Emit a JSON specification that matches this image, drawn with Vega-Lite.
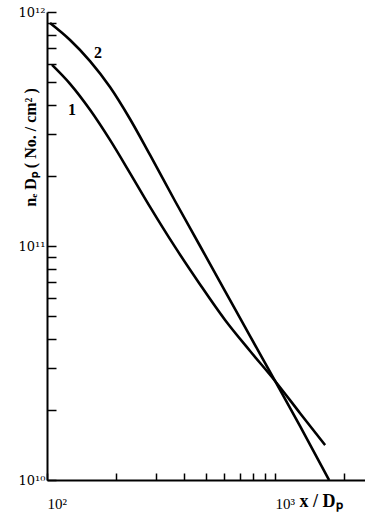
{
  "$schema": "https://vega.github.io/schema/vega-lite/v6.json",
  "width": 318,
  "height": 468,
  "autosize": {"type": "none"},
  "padding": {"left": 47, "top": 12, "right": 0, "bottom": 35},
  "background": "white",
  "config": {"view": {"stroke": null}, "font": "Liberation Serif"},
  "datasets": {
    "curves": [
      {"curve": "2", "x": 103.1, "y": 8.97e11},
      {"curve": "2", "x": 126.2, "y": 7.59e11},
      {"curve": "2", "x": 154.4, "y": 6.17e11},
      {"curve": "2", "x": 188.9, "y": 4.78e11},
      {"curve": "2", "x": 231.2, "y": 3.49e11},
      {"curve": "2", "x": 283.0, "y": 2.45e11},
      {"curve": "2", "x": 364.2, "y": 1.557e11},
      {"curve": "2", "x": 469.0, "y": 1.0e11},
      {"curve": "2", "x": 603.6, "y": 6.42e10},
      {"curve": "2", "x": 777.0, "y": 4.12e10},
      {"curve": "2", "x": 1000, "y": 2.65e10},
      {"curve": "2", "x": 1287.4, "y": 1.70e10},
      {"curve": "2", "x": 1725, "y": 1.0e10},
      {"curve": "1", "x": 105.2, "y": 5.94e11},
      {"curve": "1", "x": 126.2, "y": 4.93e11},
      {"curve": "1", "x": 154.4, "y": 3.82e11},
      {"curve": "1", "x": 188.9, "y": 2.84e11},
      {"curve": "1", "x": 231.2, "y": 2.05e11},
      {"curve": "1", "x": 283.0, "y": 1.47e11},
      {"curve": "1", "x": 364.2, "y": 9.91e10},
      {"curve": "1", "x": 469.0, "y": 6.85e10},
      {"curve": "1", "x": 603.6, "y": 4.83e10},
      {"curve": "1", "x": 777.0, "y": 3.56e10},
      {"curve": "1", "x": 1000, "y": 2.65e10},
      {"curve": "1", "x": 1287.4, "y": 1.93e10},
      {"curve": "1", "x": 1657, "y": 1.41e10}
    ],
    "labels": [
      {"label": "1", "x": 128.7, "y": 3.81e11},
      {"label": "2", "x": 167.4, "y": 6.68e11}
    ]
  },
  "layer": [
    {
      "data": {"name": "curves"},
      "mark": {"type": "line", "color": "black", "strokeWidth": 2.6, "clip": true, "interpolate": "monotone"},
      "encoding": {
        "x": {
          "field": "x",
          "type": "quantitative",
          "scale": {"type": "log", "domain": [100, 2480], "nice": false},
          "axis": {
            "values": [100, 200, 300, 400, 500, 600, 700, 800, 900, 1000, 2000],
            "labelExpr": "datum.value == 100 ? '10²' : datum.value == 1000 ? '10³' : ''",
            "labelOverlap": false,
            "labelFlush": false,
            "labelAlign": "left",
            "labelDx": 1,
            "labelFont": "Liberation Serif",
            "labelFontSize": 15,
            "labelColor": "black",
            "labelPadding": 23,
            "tickSize": -7,
            "tickColor": "black",
            "tickWidth": 1.5,
            "domainColor": "black",
            "domainWidth": 2,
            "grid": false,
            "title": "x / Dₚ",
            "titleFont": "Liberation Serif",
            "titleFontSize": 18,
            "titleFontWeight": "bold",
            "titleColor": "black",
            "titleAlign": "left",
            "titleAnchor": "start",
            "titleBaseline": "middle",
            "titleX": 252,
            "titleY": 21
          }
        },
        "y": {
          "field": "y",
          "type": "quantitative",
          "scale": {"type": "log", "domain": [1e10, 1e12], "nice": false},
          "axis": {
            "values": [1e10, 2e10, 3e10, 4e10, 5e10, 6e10, 7e10, 8e10, 9e10, 1e11, 2e11, 3e11, 4e11, 5e11, 6e11, 7e11, 8e11, 9e11, 1e12],
            "labelExpr": "datum.value == 1e10 ? '10¹⁰' : datum.value == 1e11 ? '10¹¹' : datum.value == 1e12 ? '10¹²' : ''",
            "labelOverlap": false,
            "labelFlush": false,
            "labelFont": "DejaVu Serif",
            "labelFontSize": 13,
            "labelColor": "black",
            "labelPadding": 11,
            "tickSize": -9,
            "tickColor": "black",
            "tickWidth": 1.5,
            "domainColor": "black",
            "domainWidth": 2,
            "grid": false,
            "title": "nₑ Dₚ ( No. / cm² )",
            "titleFont": "Liberation Serif",
            "titleFontSize": 16,
            "titleFontWeight": "bold",
            "titleColor": "black",
            "titleAngle": -90,
            "titleAlign": "center",
            "titleBaseline": "middle",
            "titleX": -17,
            "titleY": 135
          }
        },
        "detail": {"field": "curve"}
      }
    },
    {
      "data": {"name": "labels"},
      "mark": {"type": "text", "font": "Liberation Serif", "fontSize": 16, "fontWeight": "bold", "color": "black"},
      "encoding": {
        "x": {"field": "x", "type": "quantitative"},
        "y": {"field": "y", "type": "quantitative"},
        "text": {"field": "label"}
      }
    }
  ]
}
